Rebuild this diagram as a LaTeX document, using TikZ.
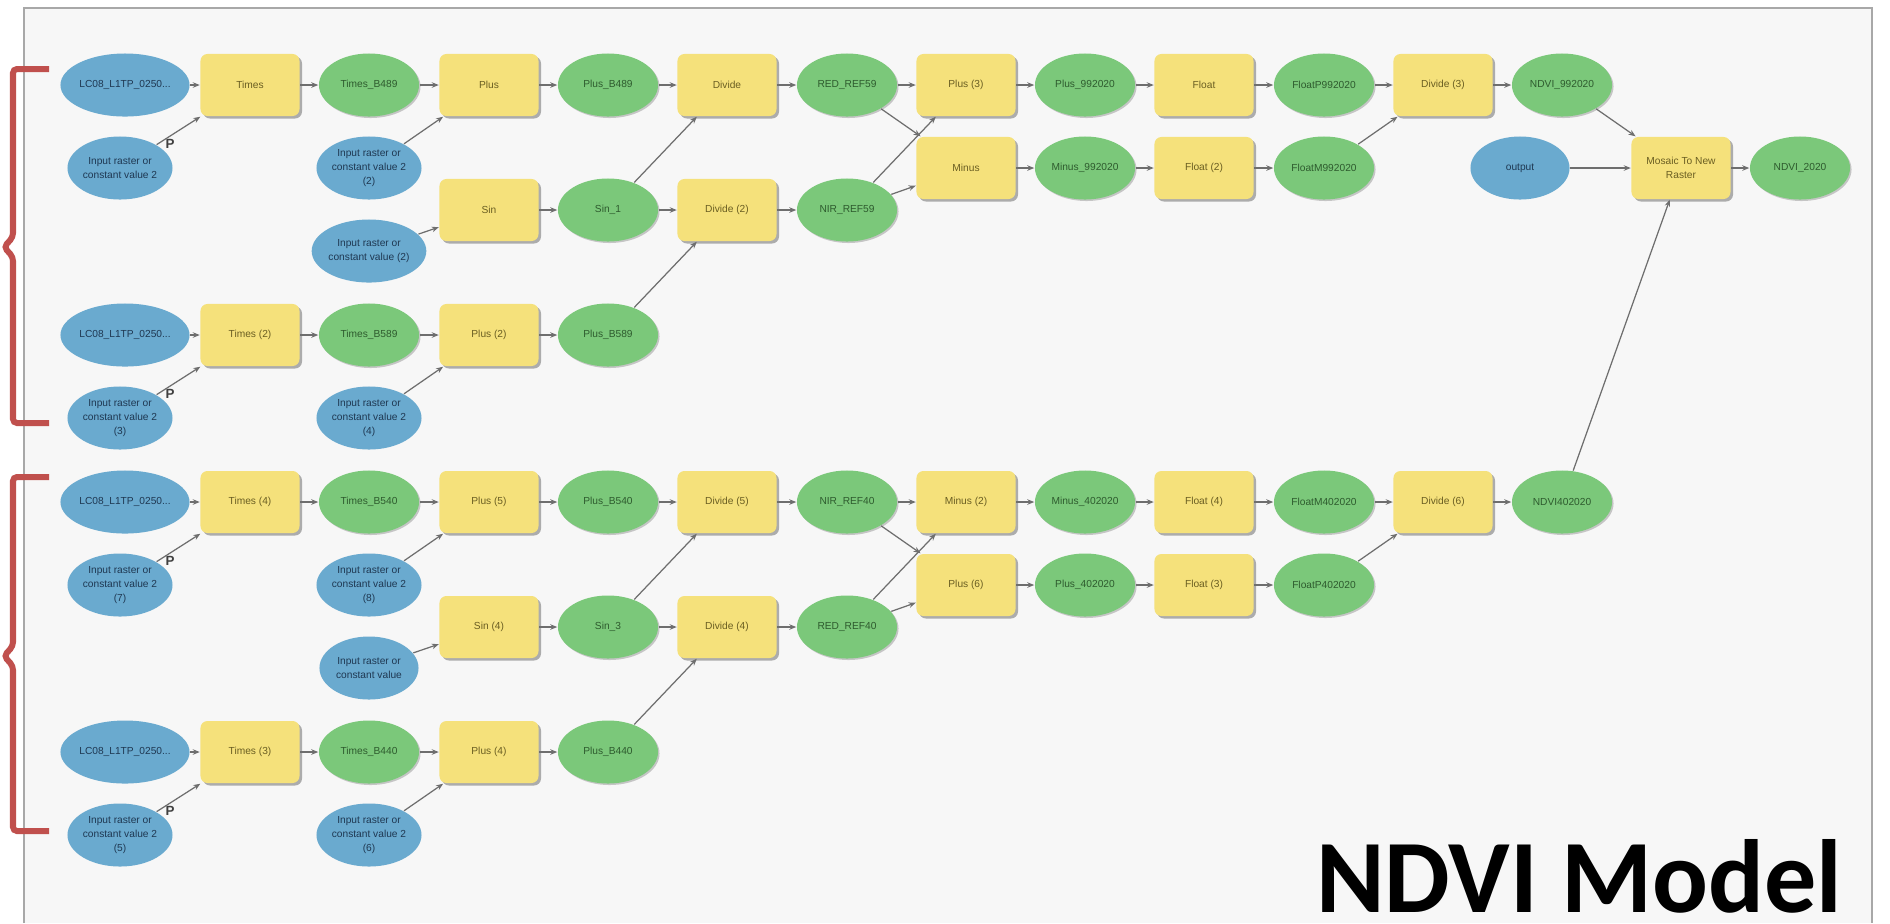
\documentclass[tikz,border=0pt]{standalone}
\usepackage{fontspec}
\setmainfont{Liberation Sans}
\newfontfamily\titlefont{Carlito}
\usetikzlibrary{arrows.meta,shapes.geometric,shadows}
\definecolor{bgc}{HTML}{F7F7F7}
\definecolor{framec}{HTML}{A8A8A8}
\definecolor{boxc}{HTML}{F5E17B}
\definecolor{greenc}{HTML}{7BC87A}
\definecolor{bluec}{HTML}{6AAACF}
\definecolor{boxt}{HTML}{6A5E22}
\definecolor{greent}{HTML}{2E5B2E}
\definecolor{bluet}{HTML}{1F3852}
\definecolor{linec}{HTML}{6E6E6E}
\definecolor{bracec}{HTML}{C0504D}
\newcommand\nodefnt{\fontsize{2.9}{4.1}\selectfont}
\begin{document}
\begin{tikzpicture}[x=0.01cm,y=-0.01cm,
  shad/.style={drop shadow={shadow xshift=0.025cm,shadow yshift=-0.025cm,fill=black,opacity=0.3}},
  box/.style={rectangle,rounded corners=0.07cm,fill=boxc,minimum width=0.99cm,minimum height=0.62cm,inner sep=0pt,text=boxt,font=\nodefnt,align=center,shad},
  gre/.style={ellipse,fill=greenc,minimum width=1.0cm,minimum height=0.63cm,inner sep=0pt,text=greent,font=\nodefnt,align=center,drop shadow={shadow xshift=0.015cm,shadow yshift=-0.015cm,fill=black,opacity=0.2}},
  blu/.style={ellipse,fill=bluec,minimum width=0.99cm,minimum height=0.63cm,inner sep=0pt,text=bluet,font=\nodefnt,align=center},
  conn/.style={draw=linec,line width=0.35pt,-{Stealth[length=0.07cm,width=0.055cm]}},
  plab/.style={font=\fontsize{3.8}{4}\selectfont\bfseries,text=black!75,inner sep=0pt},
  brace/.style={draw=bracec,line width=0.06cm,rounded corners=0.04cm}]
\useasboundingbox (0,0) rectangle (1890,923);
\fill[white] (0,0) rectangle (1890,923);
\fill[bgc] (24,8) rectangle (1872,923);
\draw[framec,line width=0.02cm] (24,923) -- (24,8) -- (1872,8) -- (1872,923);

% brackets
\draw[brace] (49,69) -- (13,69) -- (13,237) -- (4,247) -- (13,257) -- (13,423) -- (49,423);
\draw[brace] (49,477) -- (13,477) -- (13,646) -- (4,656) -- (13,666) -- (13,831) -- (49,831);

% ---------- top half ----------
\node[blu] (lc1) at (125,85) {LC08\_L1TP\_0250...};
\node[blu] (in1) at (120,168) {Input raster or\\constant value 2};
\node[box] (times1) at (250,85) {Times};
\node[gre] (tb489) at (369,85) {Times\_B489};
\node[blu] (in2) at (369,168) {Input raster or\\constant value 2\\(2)};
\node[box] (plus1) at (489,85) {Plus};
\node[gre] (pb489) at (608,85) {Plus\_B489};
\node[box] (sinb1) at (489,210) {Sin};
\node[blu] (inc2) at (369,251) {Input raster or\\constant value (2)};
\node[gre] (sin1) at (608,210) {Sin\_1};
\node[box] (div1) at (727,85) {Divide};
\node[box] (div2) at (727,210) {Divide (2)};
\node[gre] (red59) at (847,85) {RED\_REF59};
\node[gre] (nir59) at (847,210) {NIR\_REF59};
\node[box] (plus3) at (966,85) {Plus (3)};
\node[box] (minus1) at (966,168) {Minus};
\node[gre] (p992) at (1085,85) {Plus\_992020};
\node[gre] (m992) at (1085,168) {Minus\_992020};
\node[box] (float1) at (1204,85) {Float};
\node[box] (float2) at (1204,168) {Float (2)};
\node[gre] (fp992) at (1324,85) {FloatP992020};
\node[gre] (fm992) at (1324,168) {FloatM992020};
\node[box] (div3) at (1443,85) {Divide (3)};
\node[gre] (ndvi992) at (1562,85) {NDVI\_992020};
\node[blu] (output) at (1520,168) {output};
\node[box] (mosaic) at (1681,168) {Mosaic To New\\Raster};
\node[gre] (ndvi2020) at (1800,168) {NDVI\_2020};
\node[blu] (lc2) at (125,335) {LC08\_L1TP\_0250...};
\node[blu] (in3) at (120,418) {Input raster or\\constant value 2\\(3)};
\node[box] (times2) at (250,335) {Times (2)};
\node[gre] (tb589) at (369,335) {Times\_B589};
\node[blu] (in4) at (369,418) {Input raster or\\constant value 2\\(4)};
\node[box] (plus2) at (489,335) {Plus (2)};
\node[gre] (pb589) at (608,335) {Plus\_B589};

% ---------- bottom half ----------
\node[blu] (lc3) at (125,502) {LC08\_L1TP\_0250...};
\node[blu] (in7) at (120,585) {Input raster or\\constant value 2\\(7)};
\node[box] (times4) at (250,502) {Times (4)};
\node[gre] (tb540) at (369,502) {Times\_B540};
\node[blu] (in8) at (369,585) {Input raster or\\constant value 2\\(8)};
\node[box] (plus5) at (489,502) {Plus (5)};
\node[gre] (pb540) at (608,502) {Plus\_B540};
\node[box] (sinb4) at (489,627) {Sin (4)};
\node[blu] (incv) at (369,668) {Input raster or\\constant value};
\node[gre] (sin3) at (608,627) {Sin\_3};
\node[box] (div5) at (727,502) {Divide (5)};
\node[box] (div4) at (727,627) {Divide (4)};
\node[gre] (nir40) at (847,502) {NIR\_REF40};
\node[gre] (red40) at (847,627) {RED\_REF40};
\node[box] (minus2) at (966,502) {Minus (2)};
\node[box] (plus6) at (966,585) {Plus (6)};
\node[gre] (m402) at (1085,502) {Minus\_402020};
\node[gre] (p402) at (1085,585) {Plus\_402020};
\node[box] (float4) at (1204,502) {Float (4)};
\node[box] (float3) at (1204,585) {Float (3)};
\node[gre] (fm402) at (1324,502) {FloatM402020};
\node[gre] (fp402) at (1324,585) {FloatP402020};
\node[box] (div6) at (1443,502) {Divide (6)};
\node[gre] (ndvi402) at (1562,502) {NDVI402020};
\node[blu] (lc4) at (125,752) {LC08\_L1TP\_0250...};
\node[blu] (in5) at (120,835) {Input raster or\\constant value 2\\(5)};
\node[box] (times3) at (250,752) {Times (3)};
\node[gre] (tb440) at (369,752) {Times\_B440};
\node[blu] (in6) at (369,835) {Input raster or\\constant value 2\\(6)};
\node[box] (plus4) at (489,752) {Plus (4)};
\node[gre] (pb440) at (608,752) {Plus\_B440};

% P labels
\node[plab] (p1) at (170,144) {P};
\node[plab] (p2) at (170,394) {P};
\node[plab] (p3) at (170,561) {P};
\node[plab] (p4) at (170,811) {P};

% ---------- connectors top ----------
\draw[conn] (lc1) -- (times1);
\draw[conn] (in1) -- (times1);
\draw[conn] (times1) -- (tb489);
\draw[conn] (tb489) -- (plus1);
\draw[conn] (in2) -- (plus1);
\draw[conn] (plus1) -- (pb489);
\draw[conn] (inc2) -- (sinb1);
\draw[conn] (sinb1) -- (sin1);
\draw[conn] (pb489) -- (div1);
\draw[conn] (sin1) -- (div1);
\draw[conn] (sin1) -- (div2);
\draw[conn] (pb589) -- (div2);
\draw[conn] (div1) -- (red59);
\draw[conn] (div2) -- (nir59);
\draw[conn] (red59) -- (plus3);
\draw[conn] (red59) -- (minus1);
\draw[conn] (nir59) -- (plus3);
\draw[conn] (nir59) -- (minus1);
\draw[conn] (plus3) -- (p992);
\draw[conn] (minus1) -- (m992);
\draw[conn] (p992) -- (float1);
\draw[conn] (m992) -- (float2);
\draw[conn] (float1) -- (fp992);
\draw[conn] (float2) -- (fm992);
\draw[conn] (fp992) -- (div3);
\draw[conn] (fm992) -- (div3);
\draw[conn] (div3) -- (ndvi992);
\draw[conn] (ndvi992) -- (mosaic);
\draw[conn] (output) -- (mosaic);
\draw[conn] (ndvi402) -- (mosaic);
\draw[conn] (mosaic) -- (ndvi2020);
\draw[conn] (lc2) -- (times2);
\draw[conn] (in3) -- (times2);
\draw[conn] (times2) -- (tb589);
\draw[conn] (tb589) -- (plus2);
\draw[conn] (in4) -- (plus2);
\draw[conn] (plus2) -- (pb589);

% ---------- connectors bottom ----------
\draw[conn] (lc3) -- (times4);
\draw[conn] (in7) -- (times4);
\draw[conn] (times4) -- (tb540);
\draw[conn] (tb540) -- (plus5);
\draw[conn] (in8) -- (plus5);
\draw[conn] (plus5) -- (pb540);
\draw[conn] (incv) -- (sinb4);
\draw[conn] (sinb4) -- (sin3);
\draw[conn] (pb540) -- (div5);
\draw[conn] (sin3) -- (div5);
\draw[conn] (sin3) -- (div4);
\draw[conn] (pb440) -- (div4);
\draw[conn] (div5) -- (nir40);
\draw[conn] (div4) -- (red40);
\draw[conn] (nir40) -- (minus2);
\draw[conn] (nir40) -- (plus6);
\draw[conn] (red40) -- (minus2);
\draw[conn] (red40) -- (plus6);
\draw[conn] (minus2) -- (m402);
\draw[conn] (plus6) -- (p402);
\draw[conn] (m402) -- (float4);
\draw[conn] (p402) -- (float3);
\draw[conn] (float4) -- (fm402);
\draw[conn] (float3) -- (fp402);
\draw[conn] (fm402) -- (div6);
\draw[conn] (fp402) -- (div6);
\draw[conn] (div6) -- (ndvi402);
\draw[conn] (lc4) -- (times3);
\draw[conn] (in5) -- (times3);
\draw[conn] (times3) -- (tb440);
\draw[conn] (tb440) -- (plus4);
\draw[conn] (in6) -- (plus4);
\draw[conn] (plus4) -- (pb440);

% title
\node[anchor=base east,inner sep=0pt,font=\titlefont\bfseries\fontsize{29.6}{30}\selectfont] (title) at (1843,912) {NDVI Model};
\end{tikzpicture}
\end{document}
